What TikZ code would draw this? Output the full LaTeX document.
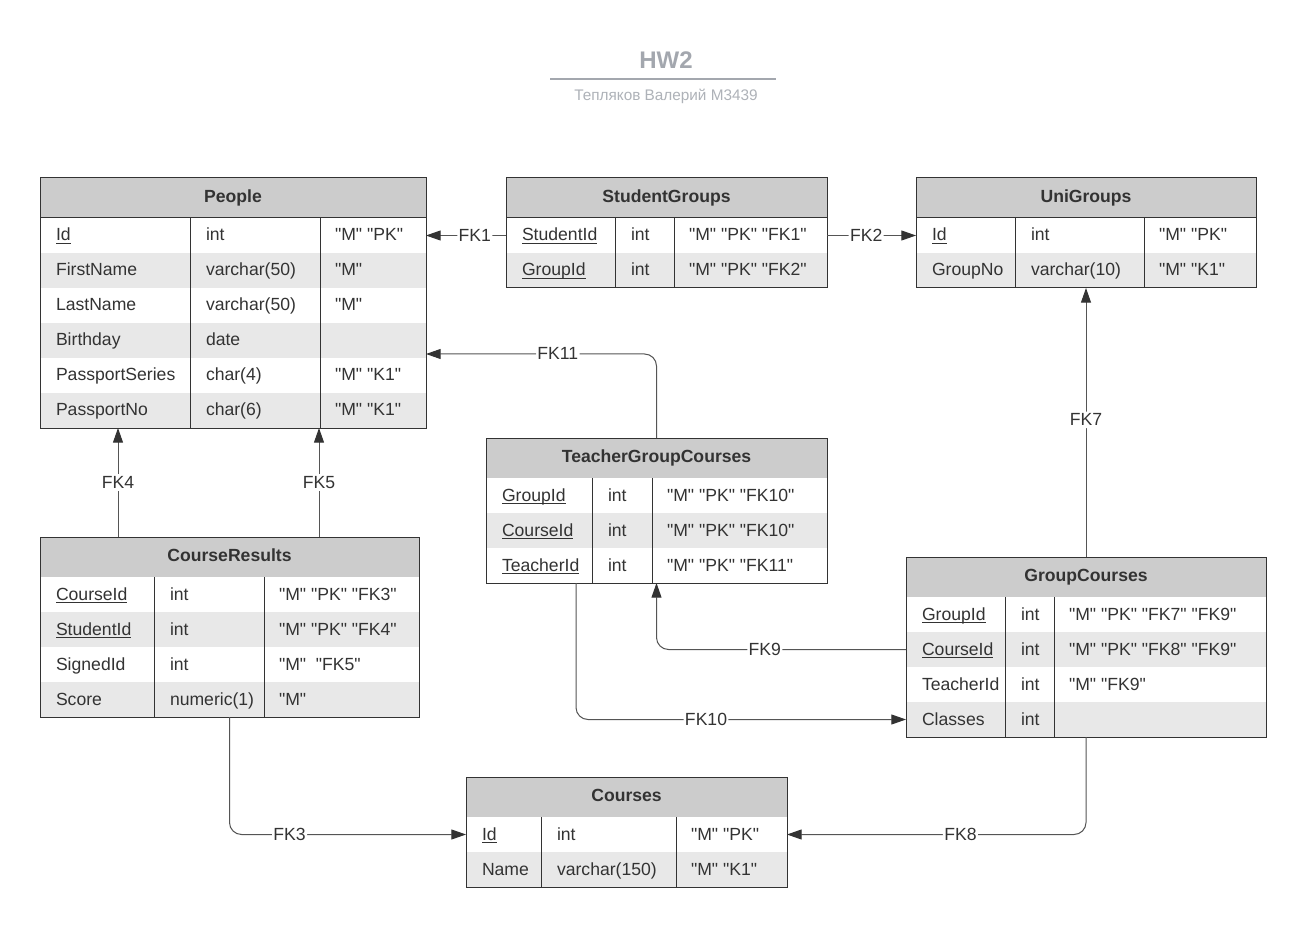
\documentclass[tikz,border=0pt]{standalone}
\usepackage{fontspec}
\setmainfont{Liberation Sans}[Ligatures=TeXOff]
\usetikzlibrary{arrows.meta}

\definecolor{ink}{HTML}{333333}
\definecolor{headfill}{HTML}{CCCCCC}
\definecolor{stripe}{HTML}{E8E8E8}
\definecolor{wire}{HTML}{555555}
\definecolor{titleink}{HTML}{A3A7AE}
\definecolor{subink}{HTML}{AEB2B8}

\newcommand\bodyfont{\fontsize{13.2pt}{16pt}\selectfont}
% key attribute: underlined at a fixed depth
\newcommand\keyname[1]{\setbox0=\hbox{#1}\rlap{\rule[-2.5pt]{\wd0}{0.9pt}}\box0}

% table geometry: left x, top y, width, first divider x, second divider x
\newcommand\settable[5]{\def\tx{#1}\def\ty{#2}\def\tw{#3}\def\ca{#4}\def\cb{#5}}
% header cell
\newcommand\dbhead[2]{%
  \node[headbox, minimum width=\tw*0.75pt, anchor=north west] (#1) at (\tx,\ty) {#2};}
% body row: name, index, fill style, three cells
\newcommand\dbrow[6]{%
  \pgfmathsetmacro\rowtop{\ty+40+35*(#2-1)}%
  \node[rowbox, #3, minimum width=\tw*0.75pt, anchor=north west] (#1) at (\tx,\rowtop) {};
  \node[cell] (#1-a) at (\tx+16,\rowtop+23) {#4};
  \node[cell] (#1-b) at (\ca+16,\rowtop+23) {#5};
  \node[cell] (#1-c) at (\cb+15,\rowtop+23) {#6};}
% column dividers and outer frame: name, number of rows
\newcommand\dbframe[2]{%
  \pgfmathsetmacro\bodyend{\ty+40+35*#2}%
  \draw[divider] (\ca,\ty+40) -- (\ca,\bodyend);
  \draw[divider] (\cb,\ty+40) -- (\cb,\bodyend);
  \node[framebox, minimum width=\tw*0.75pt, minimum height={(40+35*#2)*0.75pt},
        anchor=north west] (#1) at (\tx,\ty) {};}

\tikzset{
  headbox/.style={draw=ink, fill=headfill, line width=0.75pt, inner sep=0pt, outer sep=0pt,
    minimum height=30pt, text height=9.45pt, text depth=2pt, font=\bodyfont\bfseries, text=ink},
  rowbox/.style={draw=none, inner sep=0pt, outer sep=0pt, minimum height=26.25pt},
  plainrow/.style={fill=white},
  stripedrow/.style={fill=stripe},
  cell/.style={anchor=base west, inner sep=0pt, outer sep=0pt, font=\bodyfont, text=ink},
  divider/.style={draw=ink, line width=0.75pt},
  framebox/.style={draw=ink, line width=0.75pt, inner sep=0pt, outer sep=0pt},
  fk/.style={draw=wire, line width=0.75pt, rounded corners=9pt,
    -{Triangle[length=11pt,width=7.5pt,color=ink]}},
  fklabel/.style={fill=white, inner sep=1pt, font=\bodyfont, text=ink,
    text height=9.45pt, text depth=1pt},
}

\begin{document}
\begin{tikzpicture}[x=0.75pt, y=-0.75pt]
\fill[white] (0,0) rectangle (1307,927);
\useasboundingbox (0,0) rectangle (1307,927);

% title block
\node[font=\fontsize{18pt}{20pt}\selectfont\bfseries, text=titleink, text height=12.9pt,
      text depth=0pt, inner sep=0pt] (title) at (666,59.5) {HW2};
\coordinate (ruleL) at (550,79);
\coordinate (ruleR) at (776,79);
\draw[titleink, line width=1.5pt] (ruleL) -- (ruleR);
\node[font=\fontsize{11.5pt}{13pt}\selectfont, text=subink, text height=8.2pt,
      text depth=0pt, inner sep=0pt] (author) at (666,95) {Тепляков Валерий M3439};

% People
\settable{40}{178}{386}{190}{320}
\dbhead{people-head}{People}
\dbrow{people-id}{1}{plainrow}{\keyname{Id}}{int}{"M" "PK"}
\dbrow{people-fn}{2}{stripedrow}{FirstName}{varchar(50)}{"M"}
\dbrow{people-ln}{3}{plainrow}{LastName}{varchar(50)}{"M"}
\dbrow{people-birth}{4}{stripedrow}{Birthday}{date}{}
\dbrow{people-ps}{5}{plainrow}{PassportSeries}{char(4)}{"M" "K1"}
\dbrow{people-pn}{6}{stripedrow}{PassportNo}{char(6)}{"M" "K1"}
\dbframe{people}{6}

% StudentGroups
\settable{506}{178}{321}{615}{674}
\dbhead{sg-head}{StudentGroups}
\dbrow{sg-sid}{1}{plainrow}{\keyname{StudentId}}{int}{"M" "PK" "FK1"}
\dbrow{sg-gid}{2}{stripedrow}{\keyname{GroupId}}{int}{"M" "PK" "FK2"}
\dbframe{sg}{2}

% UniGroups
\settable{916}{178}{340}{1015}{1144}
\dbhead{uni-head}{UniGroups}
\dbrow{uni-id}{1}{plainrow}{\keyname{Id}}{int}{"M" "PK"}
\dbrow{uni-no}{2}{stripedrow}{GroupNo}{varchar(10)}{"M" "K1"}
\dbframe{uni}{2}

% TeacherGroupCourses
\settable{486}{438}{341}{592}{652}
\dbhead{tgc-head}{TeacherGroupCourses}
\dbrow{tgc-gid}{1}{plainrow}{\keyname{GroupId}}{int}{"M" "PK" "FK10"}
\dbrow{tgc-cid}{2}{stripedrow}{\keyname{CourseId}}{int}{"M" "PK" "FK10"}
\dbrow{tgc-tid}{3}{plainrow}{\keyname{TeacherId}}{int}{"M" "PK" "FK11"}
\dbframe{tgc}{3}

% GroupCourses
\settable{906}{557}{360}{1005}{1054}
\dbhead{gc-head}{GroupCourses}
\dbrow{gc-gid}{1}{plainrow}{\keyname{GroupId}}{int}{"M" "PK" "FK7" "FK9"}
\dbrow{gc-cid}{2}{stripedrow}{\keyname{CourseId}}{int}{"M" "PK" "FK8" "FK9"}
\dbrow{gc-tid}{3}{plainrow}{TeacherId}{int}{"M" "FK9"}
\dbrow{gc-cls}{4}{stripedrow}{Classes}{int}{}
\dbframe{gc}{4}

% CourseResults
\settable{40}{537}{379}{154}{264}
\dbhead{cr-head}{CourseResults}
\dbrow{cr-cid}{1}{plainrow}{\keyname{CourseId}}{int}{"M" "PK" "FK3"}
\dbrow{cr-sid}{2}{stripedrow}{\keyname{StudentId}}{int}{"M" "PK" "FK4"}
\dbrow{cr-signed}{3}{plainrow}{SignedId}{int}{"M"\ \ "FK5"}
\dbrow{cr-score}{4}{stripedrow}{Score}{numeric(1)}{"M"}
\dbframe{cr}{4}

% Courses
\settable{466}{777}{321}{541}{676}
\dbhead{courses-head}{Courses}
\dbrow{courses-id}{1}{plainrow}{\keyname{Id}}{int}{"M" "PK"}
\dbrow{courses-name}{2}{stripedrow}{Name}{varchar(150)}{"M" "K1"}
\dbframe{courses}{2}

% foreign keys
\draw[fk] (sg-sid.west) -- node[fklabel, pos=0.39] {FK1} (people-id.east);
\draw[fk] (sg-sid.east) -- node[fklabel, pos=0.44] {FK2} (uni-id.west);
\draw[fk] (tgc.north) |- node[fklabel, pos=0.714] {FK11} ([yshift=3pt]people-birth.south east);
\draw[fk] (gc.north) -- node[fklabel, pos=0.51] {FK7} (uni.south);

\coordinate (fk4foot) at ([xshift=58.5pt]cr.north west);
\draw[fk] (fk4foot) -- node[fklabel] {FK4} (fk4foot |- people.south);
\coordinate (fk5foot) at ([xshift=209.25pt]cr.north west);
\draw[fk] (fk5foot) -- node[fklabel] {FK5} (fk5foot |- people.south);

\draw[fk] (gc-cid.west) -| node[fklabel, pos=0.283] {FK9} (tgc.south);
\coordinate (fk10foot) at ([xshift=67.5pt]tgc.south west);
\draw[fk] (fk10foot) |- node[fklabel, pos=0.697] {FK10} (gc-cls.west);

\draw[fk] (cr.south) |- node[fklabel, pos=0.627] {FK3} (courses-id.west);
\draw[fk] (gc.south) |- node[fklabel, pos=0.71] {FK8} (courses-id.east);
\end{tikzpicture}
\end{document}
